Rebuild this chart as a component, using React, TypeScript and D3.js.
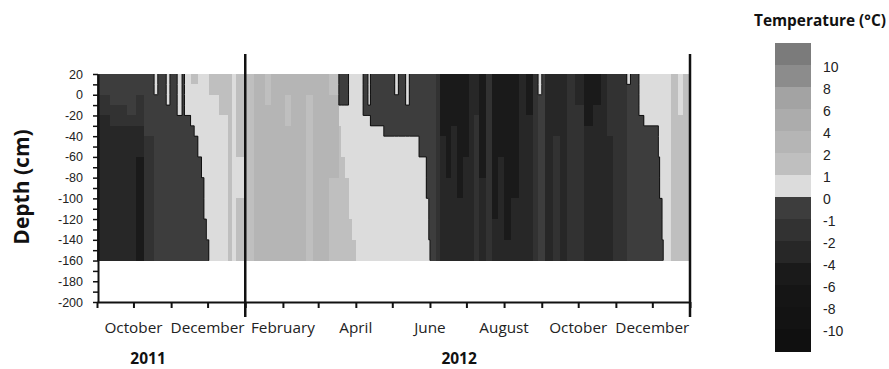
import React, { useEffect, useRef } from "react";
import * as d3 from "d3";

// depth layer edges (cm), top to bottom
const DEPTH_EDGES = [20, 10, 0, -10, -20, -30, -40, -60, -80, -100, -120, -140, -160];

// start date of every measured column, plus the final end date
const COL_EDGES = [
  "2011-09-01", "2011-09-12", "2011-09-26", "2011-10-03", "2011-10-10", "2011-10-18",
  "2011-10-21", "2011-10-28", "2011-10-31", "2011-11-06", "2011-11-10", "2011-11-12",
  "2011-11-17", "2011-11-20", "2011-11-23", "2011-11-26", "2011-11-28", "2011-11-30",
  "2011-12-02", "2011-12-10", "2011-12-18", "2011-12-21", "2011-12-24", "2012-01-01",
  "2012-01-08", "2012-01-17", "2012-01-22", "2012-02-03", "2012-02-08", "2012-02-20",
  "2012-02-26", "2012-03-10", "2012-03-18", "2012-03-20", "2012-03-23", "2012-03-26",
  "2012-03-29", "2012-04-01", "2012-04-07", "2012-04-11", "2012-04-13", "2012-04-24",
  "2012-05-03", "2012-05-06", "2012-05-12", "2012-05-15", "2012-05-23", "2012-05-29",
  "2012-05-31", "2012-06-01", "2012-06-06", "2012-06-09", "2012-06-14", "2012-06-18",
  "2012-06-23", "2012-06-28", "2012-07-03", "2012-07-07", "2012-07-11", "2012-07-17",
  "2012-07-22", "2012-07-27", "2012-08-01", "2012-08-07", "2012-08-13", "2012-08-19",
  "2012-08-25", "2012-08-29", "2012-09-01", "2012-09-04", "2012-09-10", "2012-09-16",
  "2012-09-22", "2012-09-28", "2012-10-06", "2012-10-13", "2012-10-20", "2012-10-25",
  "2012-10-30", "2012-11-10", "2012-11-13", "2012-11-20", "2012-11-24", "2012-12-06",
  "2012-12-07", "2012-12-09", "2012-12-10", "2012-12-16", "2012-12-22", "2012-12-26",
  "2013-01-01",
];

// temperature (°C) per column, one value per depth layer
const TEMPS = [
  [-0.5, -0.5, -1.5, -1.5, -3, -3, -3, -3, -3, -3, -3, -3],
  [-0.5, -0.5, -0.5, -1.5, -1.5, -3, -3, -3, -3, -3, -3, -3],
  [-0.5, -0.5, -0.5, -0.5, -1.5, -3, -3, -3, -3, -3, -3, -3],
  [-0.5, -0.5, -1.5, -1.5, -1.5, -3, -3, -5, -5, -5, -5, -5],
  [-0.5, -0.5, -0.5, -0.5, -0.5, -0.5, -1.5, -1.5, -1.5, -1.5, -1.5, -1.5],
  [0.5, 0.5, -0.5, -0.5, -0.5, -0.5, -0.5, -0.5, -0.5, -0.5, -0.5, -0.5],
  [-0.5, -0.5, -0.5, -0.5, -0.5, -0.5, -0.5, -0.5, -0.5, -0.5, -0.5, -0.5],
  [0.5, 0.5, 0.5, -0.5, -0.5, -0.5, -0.5, -0.5, -0.5, -0.5, -0.5, -0.5],
  [-0.5, -0.5, -0.5, -0.5, -0.5, -0.5, -0.5, -0.5, -0.5, -0.5, -0.5, -0.5],
  [0.5, 0.5, 0.5, 0.5, -0.5, -0.5, -0.5, -0.5, -0.5, -0.5, -0.5, -0.5],
  [-0.5, -0.5, -0.5, -0.5, -0.5, -0.5, -0.5, -0.5, -0.5, -0.5, -0.5, -0.5],
  [0.5, 0.5, 0.5, 0.5, -0.5, -0.5, -0.5, -0.5, -0.5, -0.5, -0.5, -0.5],
  [1.5, 0.5, 0.5, 0.5, 0.5, -0.5, -0.5, -0.5, -0.5, -0.5, -0.5, -0.5],
  [1.5, 0.5, 0.5, 0.5, 0.5, 0.5, -0.5, -0.5, -0.5, -0.5, -0.5, -0.5],
  [0.5, 0.5, 0.5, 0.5, 0.5, 0.5, 0.5, -0.5, -0.5, -0.5, -0.5, -0.5],
  [0.5, 0.5, 0.5, 0.5, 0.5, 0.5, 0.5, 0.5, -0.5, -0.5, -0.5, -0.5],
  [0.5, 0.5, 0.5, 0.5, 0.5, 0.5, 0.5, 0.5, 0.5, 0.5, -0.5, -0.5],
  [0.5, 0.5, 0.5, 0.5, 0.5, 0.5, 0.5, 0.5, 0.5, 0.5, 0.5, -0.5],
  [1.5, 1.5, 0.5, 0.5, 0.5, 0.5, 0.5, 0.5, 0.5, 0.5, 0.5, 0.5],
  [1.5, 1.5, 1.5, 1.5, 0.5, 0.5, 0.5, 0.5, 0.5, 0.5, 0.5, 0.5],
  [1.5, 1.5, 1.5, 1.5, 1.5, 1.5, 1.5, 1.5, 1.5, 1.5, 1.5, 1.5],
  [0.5, 0.5, 0.5, 0.5, 0.5, 0.5, 0.5, 0.5, 0.5, 0.5, 0.5, 0.5],
  [1.5, 1.5, 1.5, 1.5, 1.5, 1.5, 1.5, 0.5, 0.5, 1.5, 1.5, 1.5],
  [1.5, 1.5, 1.5, 1.5, 1.5, 1.5, 1.5, 1.5, 1.5, 1.5, 1.5, 1.5],
  [3, 3, 3, 3, 3, 3, 3, 3, 3, 3, 3, 3],
  [1.5, 1.5, 1.5, 3, 3, 3, 3, 3, 3, 3, 3, 3],
  [3, 3, 3, 3, 3, 3, 3, 3, 3, 3, 3, 3],
  [3, 3, 1.5, 1.5, 1.5, 3, 3, 3, 3, 3, 3, 3],
  [3, 3, 3, 3, 3, 3, 3, 3, 3, 3, 3, 3],
  [3, 3, 1.5, 1.5, 1.5, 1.5, 1.5, 1.5, 1.5, 1.5, 1.5, 1.5],
  [3, 3, 3, 3, 3, 3, 3, 3, 3, 3, 3, 3],
  [1.5, 1.5, 3, 3, 3, 3, 3, 3, 1.5, 1.5, 1.5, 1.5],
  [-0.5, -0.5, -0.5, 0.5, 0.5, 1.5, 1.5, 1.5, 1.5, 1.5, 1.5, 1.5],
  [-0.5, -0.5, -0.5, 0.5, 0.5, 0.5, 0.5, 1.5, 1.5, 1.5, 1.5, 1.5],
  [-0.5, -0.5, -0.5, 0.5, 0.5, 0.5, 0.5, 0.5, 1.5, 1.5, 1.5, 1.5],
  [0.5, 0.5, 0.5, 0.5, 0.5, 0.5, 0.5, 0.5, 0.5, 0.5, 1.5, 1.5],
  [0.5, 0.5, 0.5, 0.5, 0.5, 0.5, 0.5, 0.5, 0.5, 0.5, 0.5, 1.5],
  [0.5, 0.5, 0.5, 0.5, 0.5, 0.5, 0.5, 0.5, 0.5, 0.5, 0.5, 0.5],
  [-0.5, -0.5, -0.5, -0.5, 0.5, 0.5, 0.5, 0.5, 0.5, 0.5, 0.5, 0.5],
  [0.5, 0.5, 0.5, -0.5, 0.5, 0.5, 0.5, 0.5, 0.5, 0.5, 0.5, 0.5],
  [-0.5, -0.5, -0.5, -0.5, -0.5, 0.5, 0.5, 0.5, 0.5, 0.5, 0.5, 0.5],
  [-0.5, -0.5, -0.5, -0.5, -0.5, -0.5, 0.5, 0.5, 0.5, 0.5, 0.5, 0.5],
  [0.5, 0.5, -0.5, -0.5, -0.5, -0.5, 0.5, 0.5, 0.5, 0.5, 0.5, 0.5],
  [-0.5, -0.5, -0.5, -0.5, -0.5, -0.5, 0.5, 0.5, 0.5, 0.5, 0.5, 0.5],
  [0.5, 0.5, 0.5, -0.5, -0.5, -0.5, 0.5, 0.5, 0.5, 0.5, 0.5, 0.5],
  [-0.5, -0.5, -0.5, -0.5, -0.5, -0.5, 0.5, 0.5, 0.5, 0.5, 0.5, 0.5],
  [-0.5, -0.5, -0.5, -0.5, -0.5, -0.5, -0.5, 0.5, 0.5, 0.5, 0.5, 0.5],
  [-0.5, -0.5, -0.5, -0.5, -0.5, -0.5, -0.5, -0.5, -0.5, 0.5, 0.5, 0.5],
  [-0.5, -0.5, -0.5, -0.5, -0.5, -0.5, -0.5, -0.5, -0.5, -0.5, -0.5, 0.5],
  [-0.5, -0.5, -0.5, -0.5, -0.5, -0.5, -0.5, -0.5, -0.5, -0.5, -0.5, -0.5],
  [-1.5, -1.5, -1.5, -1.5, -1.5, -1.5, -1.5, -1.5, -1.5, -1.5, -1.5, -1.5],
  [-5, -5, -5, -5, -5, -5, -3, -3, -3, -3, -3, -3],
  [-5, -5, -5, -5, -5, -5, -5, -5, -3, -3, -3, -3],
  [-5, -5, -5, -5, -5, -3, -3, -3, -3, -3, -3, -3],
  [-5, -5, -5, -5, -5, -5, -5, -5, -5, -3, -3, -3],
  [-5, -5, -5, -5, -5, -5, -5, -3, -3, -3, -3, -3],
  [-3, -3, -3, -3, -3, -3, -3, -3, -3, -3, -3, -3],
  [-3, -3, -3, -3, -1.5, -1.5, -1.5, -1.5, -1.5, -1.5, -1.5, -1.5],
  [-5, -5, -5, -5, -5, -5, -5, -5, -3, -3, -3, -3],
  [-1.5, -1.5, -1.5, -1.5, -1.5, -1.5, -1.5, -1.5, -1.5, -1.5, -1.5, -1.5],
  [-5, -5, -5, -5, -5, -5, -5, -5, -5, -5, -3, -3],
  [-5, -5, -5, -5, -5, -5, -5, -3, -3, -3, -3, -3],
  [-5, -5, -5, -5, -5, -5, -5, -5, -5, -5, -5, -3],
  [-5, -5, -5, -5, -5, -5, -5, -5, -5, -3, -3, -3],
  [-3, -3, -3, -3, -3, -3, -3, -3, -3, -3, -3, -3],
  [-5, -5, -5, -5, -3, -3, -3, -3, -3, -3, -3, -3],
  [-1.5, -1.5, -1.5, -1.5, -1.5, -1.5, -1.5, -1.5, -1.5, -1.5, -1.5, -1.5],
  [0.5, 0.5, -0.5, -0.5, -0.5, -0.5, -0.5, -0.5, -0.5, -0.5, -0.5, -0.5],
  [-0.5, -0.5, -0.5, -0.5, -0.5, -0.5, -0.5, -0.5, -0.5, -0.5, -0.5, -0.5],
  [-3, -3, -3, -3, -3, -3, -3, -3, -3, -3, -3, -3],
  [-3, -3, -3, -3, -3, -3, -1.5, -1.5, -1.5, -1.5, -1.5, -1.5],
  [-3, -3, -3, -3, -3, -3, -3, -3, -3, -3, -3, -3],
  [-1.5, -1.5, -1.5, -1.5, -1.5, -1.5, -1.5, -1.5, -1.5, -1.5, -1.5, -1.5],
  [-3, -3, -3, -1.5, -1.5, -1.5, -1.5, -1.5, -1.5, -1.5, -1.5, -1.5],
  [-5, -5, -5, -5, -5, -3, -3, -3, -3, -3, -3, -3],
  [-5, -5, -5, -3, -3, -3, -3, -3, -3, -3, -3, -3],
  [-3, -3, -3, -3, -3, -3, -3, -3, -3, -3, -3, -3],
  [-1.5, -1.5, -1.5, -1.5, -1.5, -1.5, -3, -3, -3, -3, -3, -3],
  [-1.5, -1.5, -1.5, -1.5, -1.5, -1.5, -1.5, -1.5, -1.5, -1.5, -1.5, -1.5],
  [0.5, -0.5, -0.5, -0.5, -0.5, -0.5, -0.5, -0.5, -0.5, -0.5, -0.5, -0.5],
  [-0.5, -0.5, -0.5, -0.5, -0.5, -0.5, -0.5, -0.5, -0.5, -0.5, -0.5, -0.5],
  [0.5, 0.5, 0.5, 0.5, -0.5, -0.5, -0.5, -0.5, -0.5, -0.5, -0.5, -0.5],
  [0.5, 0.5, 0.5, 0.5, 0.5, -0.5, -0.5, -0.5, -0.5, -0.5, -0.5, -0.5],
  [0.5, 0.5, 0.5, 0.5, 0.5, 0.5, 0.5, -0.5, -0.5, -0.5, -0.5, -0.5],
  [0.5, 0.5, 0.5, 0.5, 0.5, 0.5, 0.5, 0.5, 0.5, -0.5, -0.5, -0.5],
  [0.5, 0.5, 0.5, 0.5, 0.5, 0.5, 0.5, 0.5, 0.5, 0.5, 0.5, -0.5],
  [0.5, 0.5, 0.5, 0.5, 0.5, 0.5, 0.5, 0.5, 0.5, 0.5, 0.5, 0.5],
  [1.5, 1.5, 1.5, 1.5, 1.5, 1.5, 1.5, 1.5, 1.5, 1.5, 1.5, 1.5],
  [0.5, 0.5, 0.5, 0.5, 1.5, 1.5, 1.5, 1.5, 1.5, 1.5, 1.5, 1.5],
  [1.5, 1.5, 1.5, 1.5, 1.5, 1.5, 1.5, 1.5, 1.5, 1.5, 1.5, 1.5],
];

// colour classes
const THRESHOLDS = [-10, -8, -6, -4, -2, -1, 0, 1, 2, 4, 6, 8, 10];
const BAND_COLORS = [
  "#101010", "#131313", "#151515", "#1a1a1a", "#272727", "#323232", "#3d3d3d",
  "#dcdcdc", "#bfbfbf", "#b5b5b5", "#acacac", "#a3a3a3", "#8c8c8c", "#7b7b7b",
];
const LEGEND_LABELS = ["10", "8", "6", "4", "2", "1", "0", "-1", "-2", "-4", "-6", "-8", "-10"];

const Y_TICKS = [20, 10, 0, -10, -20, -30, -40, -50, -60, -70, -80, -90, -100, -110, -120,
  -130, -140, -150, -160, -170, -180, -190, -200];

const MONTH_LABEL_DATES = ["2011-10-01", "2011-12-01", "2012-02-01", "2012-04-01",
  "2012-06-01", "2012-08-01", "2012-10-01", "2012-12-01"];
const MONTH_LABELS = ["October", "December", "February", "April", "June", "August", "October", "December"];
const YEAR_LABEL_DATES = ["2011-10-13", "2012-06-25"];
const YEAR_LABELS = ["2011", "2012"];
const YEAR_BREAKS = ["2012-01-01", "2013-01-01"];

const SANS = "'Open Sans', 'DejaVu Sans', sans-serif";
const ARIAL = "'Liberation Sans', Arial, sans-serif";

function renderChart(svgEl) {
  const svg = d3.select(svgEl);
  svg.selectAll("*").remove();

  const parse = d3.timeParse("%Y-%m-%d");
  const edges = COL_EDGES.map(d => parse(d));

  const x = d3.scaleTime().domain([edges[0], edges[edges.length - 1]]).range([97, 690]);
  const y = d3.scaleLinear().domain([20, -200]).range([74, 302]);
  const color = d3.scaleThreshold().domain(THRESHOLDS).range(BAND_COLORS);

  // Cells
  const cells = [];
  TEMPS.forEach((col, i) => col.forEach((t, j) => cells.push({ i, j, t })));
  svg.append("g").attr("shape-rendering", "crispEdges")
    .selectAll("rect").data(cells).join("rect")
    .attr("x", d => x(edges[d.i]))
    .attr("width", d => x(edges[d.i + 1]) - x(edges[d.i]) + 0.6)
    .attr("y", d => y(DEPTH_EDGES[d.j]))
    .attr("height", d => y(DEPTH_EDGES[d.j + 1]) - y(DEPTH_EDGES[d.j]) + 0.6)
    .attr("fill", d => color(d.t));

  // 0 °C outline
  const segs = [];
  TEMPS.forEach((col, i) => col.forEach((t, j) => {
    const next = TEMPS[i + 1];
    if (next && (t > 0) !== (next[j] > 0)) {
      segs.push([x(edges[i + 1]), y(DEPTH_EDGES[j]), x(edges[i + 1]), y(DEPTH_EDGES[j + 1])]);
    }
    if (j + 1 < col.length && (t > 0) !== (col[j + 1] > 0)) {
      segs.push([x(edges[i]), y(DEPTH_EDGES[j + 1]), x(edges[i + 1]), y(DEPTH_EDGES[j + 1])]);
    }
  }));
  svg.append("g").selectAll("line").data(segs).join("line")
    .attr("x1", d => d[0]).attr("y1", d => d[1]).attr("x2", d => d[2]).attr("y2", d => d[3])
    .attr("stroke", "#111").attr("stroke-width", 1);

  // X axis
  const gx = svg.append("g").attr("transform", "translate(0,302)")
    .call(d3.axisBottom(x).ticks(d3.timeMonth.every(1)).tickSize(6).tickSizeOuter(0).tickFormat(() => ""));
  gx.select(".domain").attr("stroke", "#111").attr("stroke-width", 2);
  gx.selectAll(".tick line").attr("stroke", "#111").attr("stroke-width", 2);

  // Y axis
  const gy = svg.append("g").attr("transform", "translate(98,0)")
    .call(d3.axisLeft(y).tickValues(Y_TICKS).tickSize(5).tickSizeOuter(0).tickPadding(10)
      .tickFormat(d => (d % 20 === 0 ? String(d) : "")));
  gy.select(".domain").attr("stroke", "#111").attr("stroke-width", 2);
  gy.selectAll(".tick line").attr("stroke", "#111").attr("stroke-width", 1.5);
  gy.selectAll("text").attr("font-family", ARIAL).attr("font-size", 12.5).attr("fill", "#222");

  // Year break lines
  svg.append("g").selectAll("line").data(YEAR_BREAKS).join("line")
    .attr("x1", d => x(parse(d))).attr("x2", d => x(parse(d)))
    .attr("y1", 54).attr("y2", 317)
    .attr("stroke", "#111").attr("stroke-width", 2.5);

  // Month + year labels
  svg.append("g").selectAll("text").data(MONTH_LABEL_DATES).join("text")
    .attr("x", d => x(parse(d))).attr("y", 333)
    .attr("text-anchor", "middle").attr("font-family", SANS).attr("font-size", 15.3).attr("fill", "#222")
    .text((d, i) => MONTH_LABELS[i]);

  svg.append("g").selectAll("text").data(YEAR_LABEL_DATES).join("text")
    .attr("x", d => x(parse(d))).attr("y", 364)
    .attr("text-anchor", "middle").attr("font-family", SANS).attr("font-weight", "bold")
    .attr("font-size", 15.5).attr("fill", "#111")
    .text((d, i) => YEAR_LABELS[i]);

  // Y title
  svg.append("text")
    .attr("transform", "translate(29,187) rotate(-90)")
    .attr("text-anchor", "middle").attr("font-family", SANS).attr("font-weight", "bold")
    .attr("font-size", 21).attr("fill", "#111")
    .text("Depth (cm)");

  // Legend
  const ly = d3.scaleLinear().domain([0, BAND_COLORS.length]).range([43, 351]);
  const legendColors = BAND_COLORS.slice().reverse();
  svg.append("g").attr("shape-rendering", "crispEdges")
    .selectAll("rect").data(legendColors).join("rect")
    .attr("x", 775).attr("width", 36)
    .attr("y", (d, i) => ly(i)).attr("height", (d, i) => ly(i + 1) - ly(i) + 0.5)
    .attr("fill", d => d);

  svg.append("g").selectAll("text").data(LEGEND_LABELS).join("text")
    .attr("x", 823).attr("y", (d, i) => ly(i + 1) + 2)
    .attr("dominant-baseline", "central")
    .attr("font-family", ARIAL).attr("font-size", 14).attr("fill", "#222")
    .text(d => d);

  svg.append("text")
    .attr("x", 754).attr("y", 26)
    .attr("font-family", SANS).attr("font-weight", "bold").attr("font-size", 15.4).attr("fill", "#111")
    .text("Temperature (°C)");
}

export default function App() {
  const svgRef = useRef(null);

  useEffect(() => {
    if (svgRef.current) renderChart(svgRef.current);
  }, []);

  return (
    <div style={{ position: "absolute", left: 0, top: 0 }}>
      <svg ref={svgRef} width={889} height={369} style={{ display: "block", background: "#fff" }} />
    </div>
  );
}
